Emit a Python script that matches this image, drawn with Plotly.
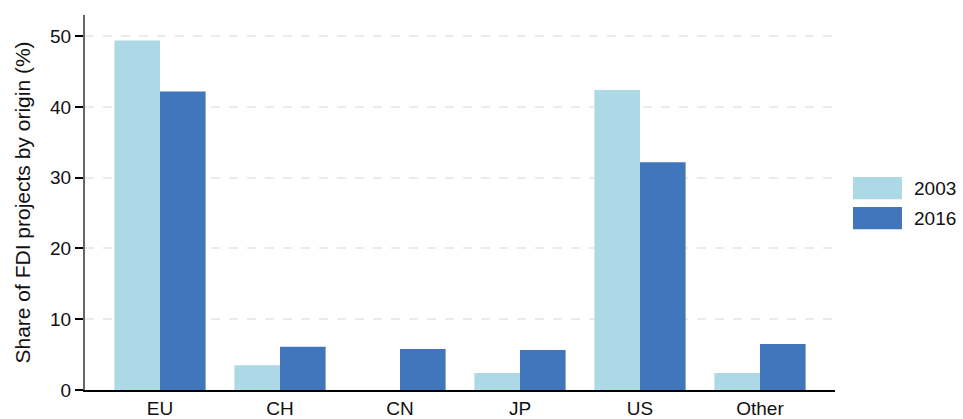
import plotly.graph_objects as go

categories = ["EU", "CH", "CN", "JP", "US", "Other"]
share_2003 = [49.4, 3.5, 0.0, 2.4, 42.4, 2.4]
share_2016 = [42.2, 6.1, 5.8, 5.65, 32.2, 6.5]
y_ticks = [0, 10, 20, 30, 40, 50]
series_names = ["2003", "2016"]
series_colors = ["#add8e6", "#4176bc"]

fig = go.Figure()
for name, vals, col in zip(series_names, [share_2003, share_2016], series_colors):
    fig.add_trace(go.Bar(x=categories, y=vals, name=name,
                         marker=dict(color=col, line=dict(width=0))))

FONT = "Liberation Sans, Arial, sans-serif"
TXT = "#111111"
fig.update_layout(
    width=963, height=419,
    margin=dict(l=85, r=128, t=15, b=29, autoexpand=False),
    plot_bgcolor="white", paper_bgcolor="white",
    barmode="group", bargap=0.24, bargroupgap=0,
    font=dict(family=FONT, size=19, color=TXT),
    showlegend=False,
)
# legend drawn as swatches + labels
legend_y = [(0.568, 0.509), (0.488, 0.429)]
for (y1, y0), name, col in zip(legend_y, series_names, series_colors):
    fig.add_shape(type="rect", xref="paper", yref="paper", x0=1.024, x1=1.0893,
                  y0=y0, y1=y1, fillcolor=col, line=dict(width=0))
    fig.add_annotation(xref="paper", yref="paper", x=1.1027, y=(y0 + y1) / 2,
                       text=name, showarrow=False, xanchor="left", yanchor="middle",
                       font=dict(family=FONT, size=19, color=TXT))

fig.update_xaxes(
    range=[-0.625, 5.625], showline=True, linecolor="black", linewidth=2,
    ticks="", showgrid=False, zeroline=False, automargin=False,
    tickfont=dict(family=FONT, size=19, color=TXT),
)
fig.update_yaxes(
    range=[0, 53], tickvals=y_ticks, showline=True, linecolor="#666666", linewidth=2,
    ticks="outside", ticklen=8, tickwidth=2, tickcolor="black",
    showgrid=True, gridcolor="#ebebeb", griddash="dash", gridwidth=2,
    zeroline=False, automargin=False,
    tickfont=dict(family=FONT, size=19, color=TXT),
    title=dict(text="Share of FDI projects by origin (%)", standoff=14,
               font=dict(family=FONT, size=21, color=TXT)),
)
fig.write_html("out.html", config={"displayModeBar": False},
               post_script="document.body.style.margin='0';")
